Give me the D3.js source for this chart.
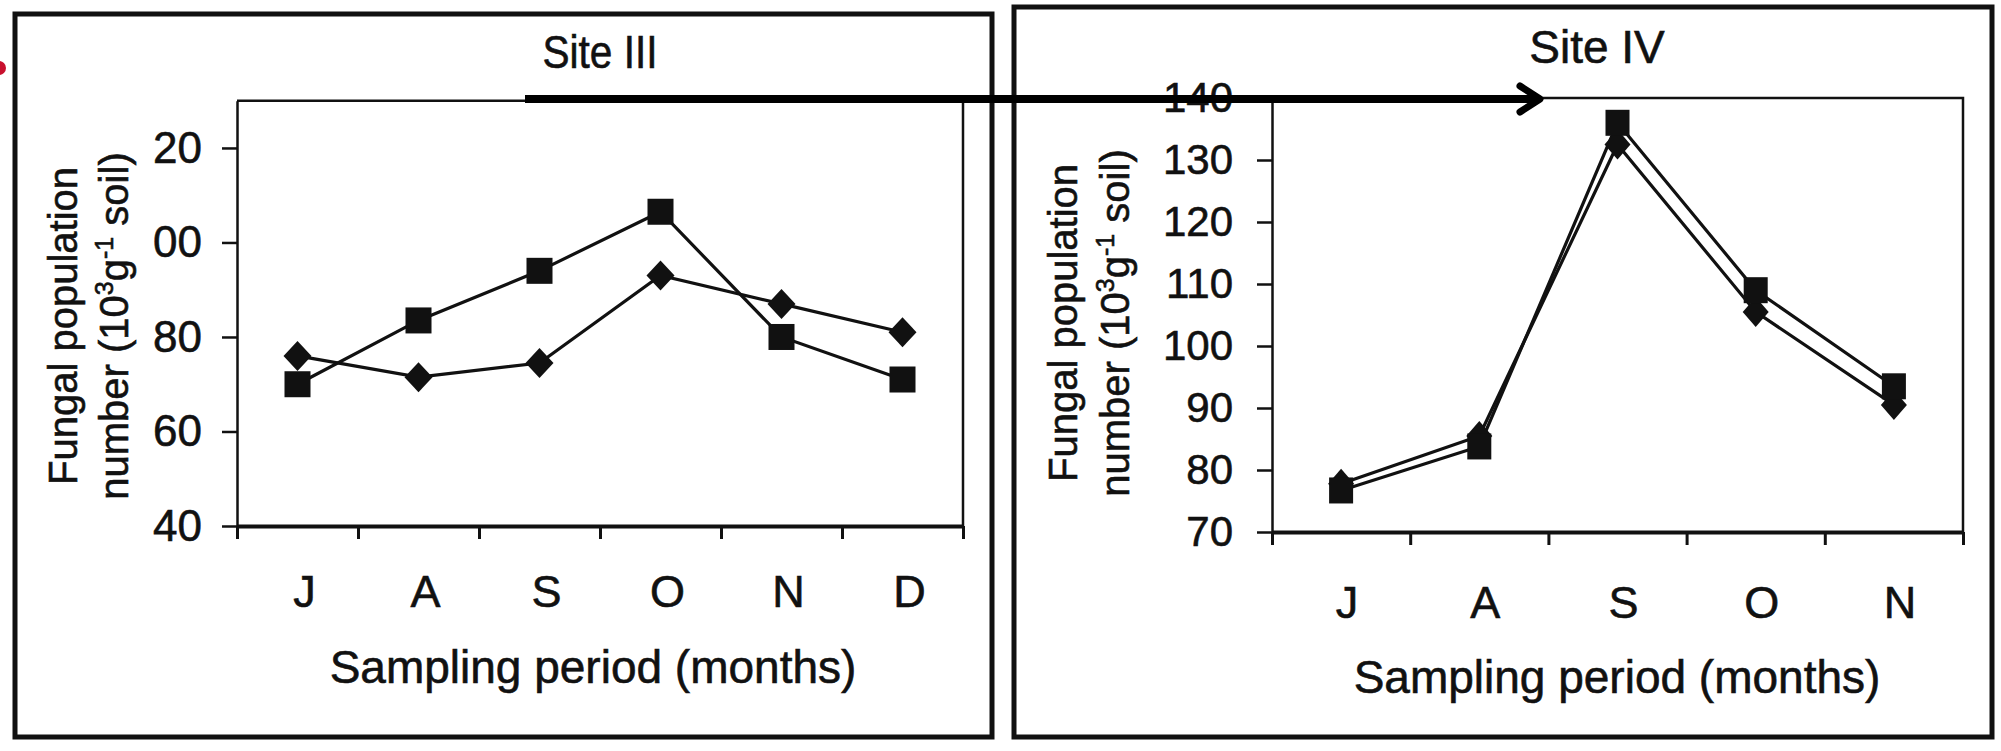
<!DOCTYPE html>
<html>
<head>
<meta charset="utf-8">
<script src="https://cdn.jsdelivr.net/npm/d3@7"></script>
<style>
  html, body { margin: 0; padding: 0; background: #fff; }
  svg { display: block; }
  text { stroke: #111; stroke-width: 0.6px; }
</style>
</head>
<body>
<svg id="chart" width="2001" height="751"></svg>
<script>
// ---------- Data ----------
const categoriesIII = ["J", "A", "S", "O", "N", "D"];
const squaresIII    = [70, 83.5, 94, 106.5, 80, 71];
const diamondsIII   = [76, 71.5, 74.5, 93, 87, 81];
const yTicksIII     = [120, 100, 80, 60, 40];
const yTickLabelsIII = ["20", "00", "80", "60", "40"];

const categoriesIV = ["J", "A", "S", "O", "N"];
const squaresIV    = [76.7, 83.8, 136, 109, 93.5];
const diamondsIV   = [77.8, 85.5, 132.5, 105.5, 90.5];
const yTicksIV     = [140, 130, 120, 110, 100, 90, 80, 70];
const yTickLabelsIV = ["140", "130", "120", "110", "100", "90", "80", "70"];

const titleIII = "Site III";
const titleIV = "Site IV";
const xTitle = "Sampling period (months)";
const yTitle1 = "Fungal population";

// ---------- Setup ----------
const FONT = "'Liberation Sans', Arial, Helvetica, sans-serif";
const INK = "#111";
const svg = d3.select("#chart");
svg.append("rect").attr("width", 2001).attr("height", 751).attr("fill", "#fff");

// red mark at left edge
svg.append("circle").attr("cx", -1).attr("cy", 68).attr("r", 7).attr("fill", "#c8102e");

// outer boxes
svg.append("rect").attr("x", 15).attr("y", 14).attr("width", 977).attr("height", 723)
  .attr("fill", "none").attr("stroke", INK).attr("stroke-width", 5);
svg.append("rect").attr("x", 1014).attr("y", 7).attr("width", 978).attr("height", 730)
  .attr("fill", "none").attr("stroke", INK).attr("stroke-width", 5);

function diamondPath(cx, cy, hw, hh) {
  return `M${cx},${cy - hh}L${cx + hw},${cy}L${cx},${cy + hh}L${cx - hw},${cy}Z`;
}

function panel(cfg) {
  const g = svg.append("g");
  const x = d3.scaleBand().domain(cfg.cats).range([cfg.x0, cfg.x1]).padding(0);
  const y = d3.scaleLinear().domain(cfg.domain).range([cfg.y1, cfg.y0]);
  const cx = (d) => x(d) + x.bandwidth() / 2;

  // plot frame (top + right)
  g.append("path")
    .attr("d", `M${cfg.x0},${cfg.y0}H${cfg.x1}V${cfg.y1}`)
    .attr("fill", "none").attr("stroke", INK).attr("stroke-width", 2.5);

  // y axis
  g.append("g")
    .attr("transform", `translate(${cfg.x0},0)`)
    .call(d3.axisLeft(y).tickValues(cfg.yTicks)
      .tickFormat((d, i) => cfg.yLabels[i])
      .tickSize(15).tickSizeOuter(0).tickPadding(cfg.yPad))
    .call(a => {
      a.selectAll("line, path").attr("stroke", INK).attr("stroke-width", 2.5);
      a.selectAll("text").attr("font-size", cfg.yFont).attr("font-family", FONT)
        .attr("fill", INK);
    });

  // x ticks at category boundaries
  const xi = d3.scaleLinear().domain([0, cfg.cats.length]).range([cfg.x0, cfg.x1]);
  g.append("g")
    .attr("transform", `translate(0,${cfg.y1})`)
    .call(d3.axisBottom(xi).tickValues(d3.range(cfg.cats.length + 1))
      .tickFormat("").tickSize(13).tickSizeOuter(0))
    .call(a => {
      a.selectAll("line").attr("stroke", INK).attr("stroke-width", 3);
      a.selectAll("path").attr("stroke", INK).attr("stroke-width", 4);
    });

  // x labels
  g.append("g")
    .attr("transform", `translate(0,${cfg.y1})`)
    .call(d3.axisBottom(x).tickSize(0))
    .call(a => {
      a.select(".domain").remove();
      a.selectAll("text")
        .attr("y", cfg.xLabelY - cfg.y1).attr("dy", 0).attr("dx", cfg.xdx)
        .attr("font-size", cfg.xFont).attr("font-family", FONT).attr("fill", INK);
    });

  // series lines
  const line = d3.line().x((d, i) => cx(cfg.cats[i])).y(d => y(d));
  [cfg.diamonds, cfg.squares].forEach(s => {
    g.append("path").datum(s).attr("d", line)
      .attr("fill", "none").attr("stroke", INK).attr("stroke-width", 3.2)
      .attr("stroke-linejoin", "miter");
  });

  // markers
  g.selectAll(null).data(cfg.diamonds).enter().append("path")
    .attr("d", (d, i) => diamondPath(cx(cfg.cats[i]), y(d), cfg.dHW, cfg.dHH))
    .attr("fill", INK);
  g.selectAll(null).data(cfg.squares).enter().append("rect")
    .attr("x", (d, i) => cx(cfg.cats[i]) - cfg.sW / 2)
    .attr("y", d => y(d) - cfg.sH / 2)
    .attr("width", cfg.sW).attr("height", cfg.sH)
    .attr("fill", INK);

  // title
  const t = g.append("text")
    .attr("x", cfg.titleX).attr("y", cfg.titleY)
    .attr("text-anchor", "middle")
    .attr("font-size", 46).attr("font-family", FONT).attr("fill", INK)
    .text(cfg.title);
  if (cfg.titleLen) t.attr("textLength", cfg.titleLen).attr("lengthAdjust", "spacingAndGlyphs");

  // x title
  g.append("text")
    .attr("x", cfg.xTitleX).attr("y", cfg.xTitleY)
    .attr("text-anchor", "middle")
    .attr("font-size", 46).attr("font-family", FONT).attr("fill", INK)
    .text(xTitle);

  // y title (two lines, rotated)
  g.append("text")
    .attr("transform", `translate(${cfg.yT1},${cfg.yTC}) rotate(-90)`)
    .attr("text-anchor", "middle")
    .attr("font-size", 40).attr("font-family", FONT).attr("fill", INK)
    .text(yTitle1);
  const t2 = g.append("text")
    .attr("transform", `translate(${cfg.yT2},${cfg.yTC}) rotate(-90)`)
    .attr("text-anchor", "middle")
    .attr("font-size", 40).attr("font-family", FONT).attr("fill", INK);
  t2.append("tspan").text("number (10");
  t2.append("tspan").attr("font-size", 25).attr("dy", -15).text("3");
  t2.append("tspan").attr("dy", 15).text("g");
  t2.append("tspan").attr("font-size", 25).attr("dy", -15).text("-1");
  t2.append("tspan").attr("dy", 15).text(" soil)");
}

panel({
  cats: categoriesIII, squares: squaresIII, diamonds: diamondsIII,
  yTicks: yTicksIII, yLabels: yTickLabelsIII, domain: [40, 130],
  x0: 237, x1: 963, y0: 100.7, y1: 526,
  yPad: 20, yFont: 44, xFont: 45, xLabelY: 607, xdx: 7,
  sW: 26, sH: 26, dHW: 14, dHH: 15,
  title: titleIII, titleX: 600, titleY: 68, titleLen: 115,
  xTitleX: 593, xTitleY: 683,
  yT1: 77, yT2: 128, yTC: 326
});

panel({
  cats: categoriesIV, squares: squaresIV, diamonds: diamondsIV,
  yTicks: yTicksIV, yLabels: yTickLabelsIV, domain: [70, 140],
  x0: 1272, x1: 1963, y0: 98, y1: 532,
  yPad: 24, yFont: 42, xFont: 45, xLabelY: 618, xdx: 6,
  sW: 24, sH: 26, dHW: 13, dHH: 15,
  title: titleIV, titleX: 1597, titleY: 63, titleLen: null,
  xTitleX: 1617, xTitleY: 693,
  yT1: 1077, yT2: 1129, yTC: 323
});

// arrow linking the panels
svg.append("line").attr("x1", 525).attr("y1", 99).attr("x2", 1537).attr("y2", 99)
  .attr("stroke", "#000").attr("stroke-width", 8);
svg.append("path").attr("d", "M1520,86L1540,99L1520,112")
  .attr("fill", "none").attr("stroke", "#000").attr("stroke-width", 7)
  .attr("stroke-linecap", "round").attr("stroke-linejoin", "round");
</script>
</body>
</html>
